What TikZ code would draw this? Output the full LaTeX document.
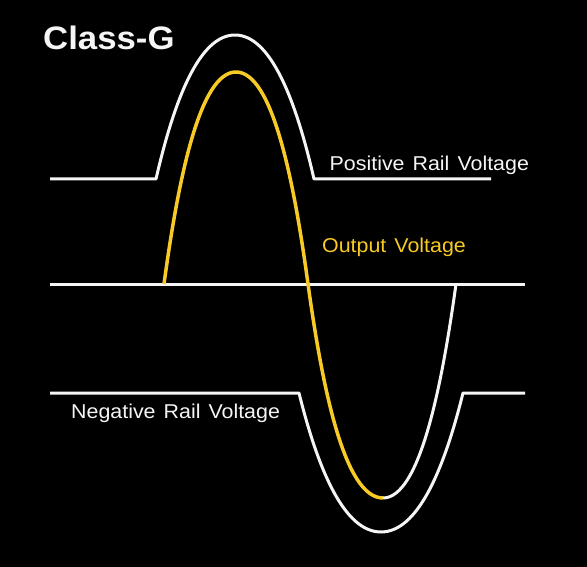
\documentclass[tikz,border=0pt]{standalone}
\usepackage{fontspec}
\setmainfont{Liberation Sans}[FakeStretch=1.07,WordSpace=1.35]
\definecolor{gold}{RGB}{247,202,38}
\definecolor{offwhite}{RGB}{245,245,245}
\begin{document}
\begin{tikzpicture}[x=1pt,y=-1pt, line join=round,
  wire/.style={draw=offwhite, line width=3pt},
  outwave/.style={draw=gold, line width=3.5pt},
  lbl/.style={anchor=base west, inner sep=0pt, font=\fontsize{20}{24}\selectfont, text=offwhite}]
\fill[black] (0,0) rectangle (587,567);
\useasboundingbox (0,0) rectangle (587,567);
% zero axis
\draw[wire] (50,284) -- (525,284);
% positive rail
\draw[wire] (50,179) -- (156,179) .. controls (174.7,97.7) and (199.9,35) .. (235,35)
  .. controls (270.1,35) and (295.3,97.7) .. (314,179) -- (491,179);
% negative rail
\draw[wire] (50,393) -- (299,393) .. controls (318.6,471.8) and (344.8,532) .. (381,532)
  .. controls (417.2,532) and (443.4,471.8) .. (463,393) -- (525,393);
% output voltage
\draw[outwave] (164,284) .. controls (178.4,178) and (200,72) .. (236,72)
  .. controls (272,72) and (293.6,178) .. (308,284)
  .. controls (322.8,391) and (345,498) .. (383,498);
\draw[wire] (383,498) .. controls (419,498) and (441.2,391) .. (456,284);
% labels
\node[anchor=base west, inner sep=0pt, font=\bfseries\fontsize{32.5}{36}\selectfont, text=offwhite] (title) at (43,49.3) {Class-G};
\node[lbl] (pos) at (329.5,170.7) {Positive Rail Voltage};
\node[lbl, text=gold] (out) at (322,252.7) {Output Voltage};
\node[lbl] (neg) at (71,418.3) {Negative Rail Voltage};
\end{tikzpicture}
\end{document}
